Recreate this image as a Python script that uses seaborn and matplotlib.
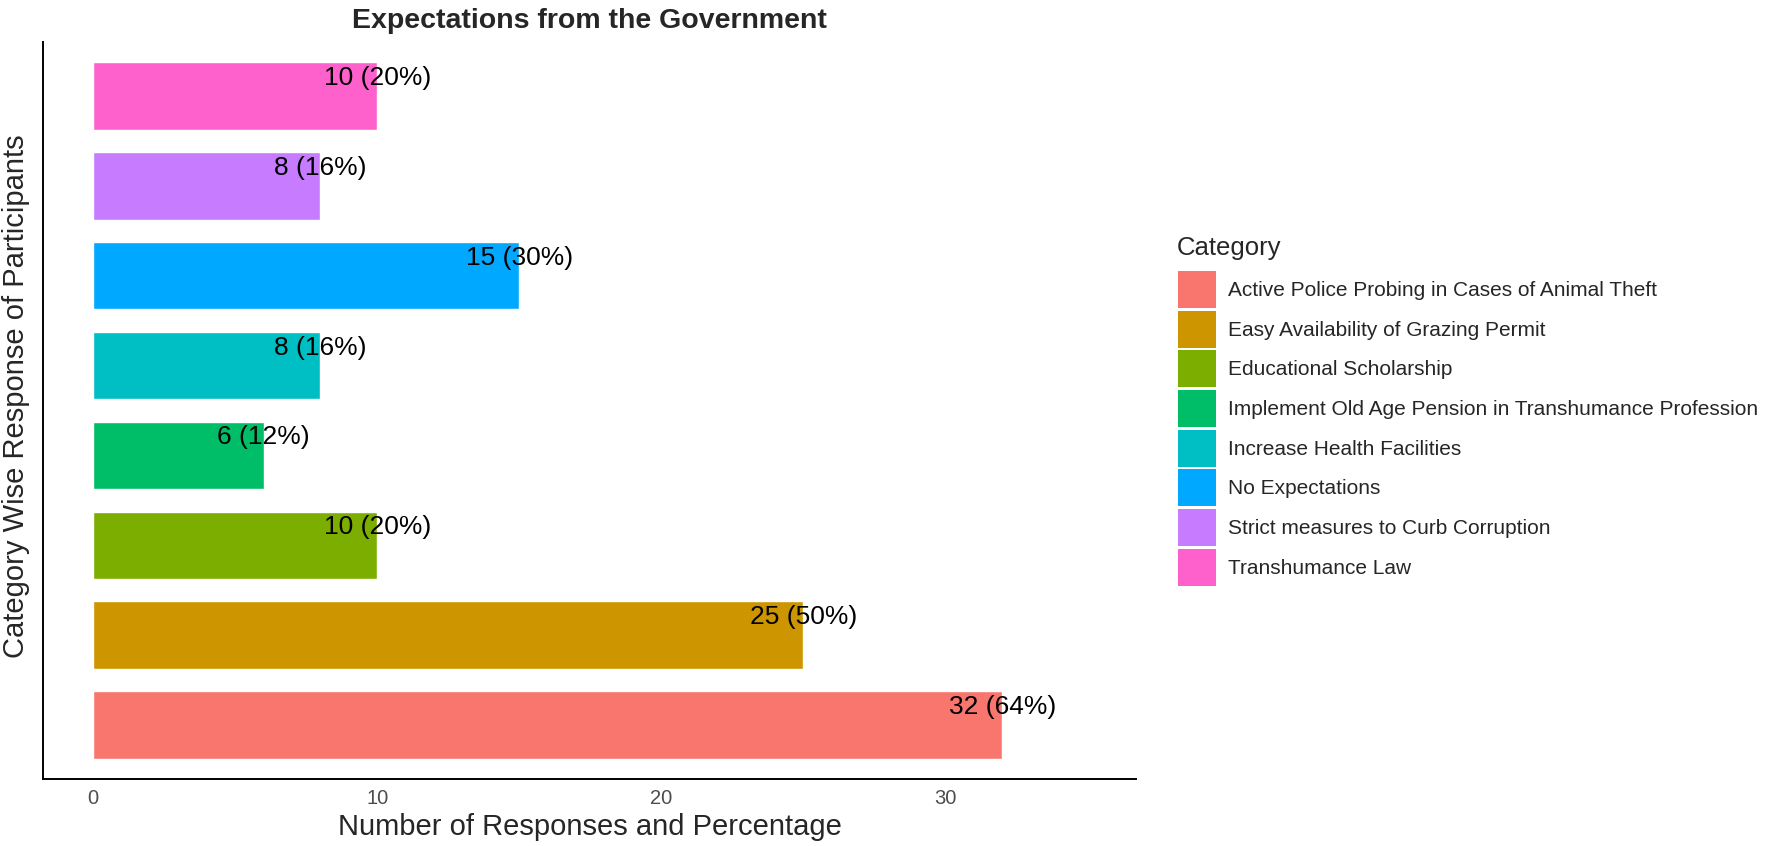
import pandas as pd
import matplotlib
matplotlib.use('Agg')
import matplotlib.pyplot as plt
import matplotlib.patches as mpatches
import seaborn as sns

# data
categories = ['Active Police Probing in Cases of Animal Theft',
              'Easy Availability of Grazing Permit',
              'Educational Scholarship',
              'Implement Old Age Pension in Transhumance Profession',
              'Increase Health Facilities',
              'No Expectations',
              'Strict measures to Curb Corruption',
              'Transhumance Law']
counts = [32, 25, 10, 6, 8, 15, 8, 10]
percents = [64, 50, 20, 12, 16, 30, 16, 20]
colors = ['#F8766D', '#CD9600', '#7CAE00', '#00BE67',
          '#00BFC4', '#00A9FF', '#C77CFF', '#FF61CC']

df = pd.DataFrame({'Category': categories, 'Count': counts, 'Percent': percents})
df['Label'] = df['Count'].astype(str) + ' (' + df['Percent'].astype(str) + '%)'

sns.set_style('white')
plt.rcParams['font.family'] = ['Liberation Sans', 'DejaVu Sans']

W, H = 1772, 846
fig = plt.figure(figsize=(W / 100, H / 100), dpi=100)
ax_l, ax_r, ax_t, ax_b = 43, 1136, 42, 779
aw, ah = ax_r - ax_l, ax_b - ax_t
ax = fig.add_axes([ax_l / W, 1 - ax_b / H, aw / W, ah / H])

# first category at the bottom, like ggplot
order = categories[::-1]
sns.barplot(data=df, x='Count', y='Category', hue='Category', order=order,
            hue_order=categories, palette=colors, dodge=False, width=0.75,
            saturation=1, legend=False, ax=ax)

for i, row in df.iterrows():
    pos = order.index(row['Category'])
    ax.text(row['Count'], pos - 0.2, row['Label'], ha='center', va='center',
            fontsize=19, color='black')

ax.set_xlim(-1.76, 36.7)
ax.set_ylim(7.6, -0.6)
ax.set_xticks([0, 10, 20, 30])
ax.set_yticks([])
ax.tick_params(axis='x', length=4.5, width=1, color='#333333', labelsize=14.5,
               labelcolor='#4d4d4d', pad=3)
for s in ['top', 'right']:
    ax.spines[s].set_visible(False)
for s in ['left', 'bottom']:
    ax.spines[s].set_linewidth(1.4)
    ax.spines[s].set_color('black')

ax.set_xlabel('Number of Responses and Percentage', fontsize=21)
ax.set_ylabel('Category Wise Response of Participants', fontsize=21)
ax.xaxis.set_label_coords(0.5, -(813 - ax_b) / ah)
ax.yaxis.set_label_coords(-(ax_l - 30) / aw, (ax_b - 396) / ah)

fig.text(589 / W, 1 - 28 / H, 'Expectations from the Government', ha='center',
         va='baseline', fontsize=20.5, fontweight='bold')

# legend
fig.text(1177 / W, 1 - 255 / H, 'Category', ha='left', va='baseline', fontsize=18.5)
handles = [mpatches.Patch(facecolor=c, edgecolor='none', label=l)
           for c, l in zip(colors, categories)]
fs = 15
px = fs * 100 / 72
hh = (37 / px - 0.245) / 0.65
fig.legend(handles=handles, loc='upper left', bbox_to_anchor=(1178 / W, 1 - 271 / H),
           frameon=False, fontsize=fs, borderpad=0, borderaxespad=0,
           handlelength=38 / px, handleheight=hh, labelspacing=2.7 / px,
           handletextpad=12 / px)

fig.savefig('out.png', dpi=100)
